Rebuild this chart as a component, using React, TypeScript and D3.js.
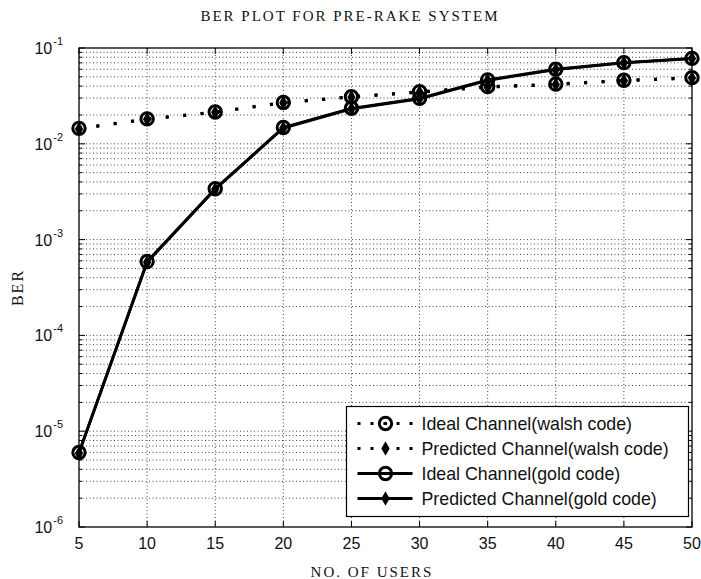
import React from "react";
import * as d3 from "d3";

// number of users on the x axis
const users = [5, 10, 15, 20, 25, 30, 35, 40, 45, 50];

// BER values
const walshIdeal = [0.0145, 0.0182, 0.0215, 0.027, 0.031, 0.035, 0.0395, 0.042, 0.046, 0.049];
const walshPredicted = [0.0143, 0.018, 0.0213, 0.0268, 0.0307, 0.0345, 0.039, 0.0415, 0.0455, 0.0485];
const goldIdeal = [6e-6, 5.9e-4, 3.4e-3, 0.0148, 0.0235, 0.0298, 0.0465, 0.06, 0.0703, 0.078];
const goldPredicted = [5.9e-6, 5.8e-4, 3.35e-3, 0.0146, 0.0232, 0.0295, 0.046, 0.0595, 0.07, 0.0775];

const xTicks = [5, 10, 15, 20, 25, 30, 35, 40, 45, 50];
const yDecades = [-6, -5, -4, -3, -2, -1];

const legendLabels = [
  "Ideal Channel(walsh code)",
  "Predicted Channel(walsh code)",
  "Ideal Channel(gold code)",
  "Predicted Channel(gold code)",
];

const W = 701;
const H = 579;
const M = { left: 79, right: 692, top: 48, bottom: 527 };

const x = d3.scaleLinear().domain([5, 50]).range([M.left, M.right]);
const y = d3.scaleLog().domain([1e-6, 1e-1]).range([M.bottom, M.top]);

const sans = "'Liberation Sans', Arial, sans-serif";
const serif = "'Liberation Serif', 'Times New Roman', serif";
const DOTS = "3 14.5";

const line = d3
  .line<number>()
  .x((_, i) => x(users[i]))
  .y((d) => y(d));

const diamond = d3.symbol().type(d3.symbolDiamond).size(60)();

function Ring({ cx, cy }: { cx: number; cy: number }) {
  return (
    <g>
      <circle cx={cx} cy={cy} r={6.2} fill="none" stroke="#000" strokeWidth={3} />
      <circle cx={cx} cy={cy} r={1.8} fill="#000" />
    </g>
  );
}

function Star({ cx, cy }: { cx: number; cy: number }) {
  return <path d={diamond as string} transform={`translate(${cx},${cy})`} fill="#000" />;
}

export default function App() {
  // minor log grid values
  const minor: number[] = [];
  for (let e = -6; e < -1; e++) for (let k = 2; k <= 9; k++) minor.push(k * Math.pow(10, e));

  const series = [
    { data: walshIdeal, dash: DOTS, Marker: Ring },
    { data: walshPredicted, dash: DOTS, Marker: Star },
    { data: goldIdeal, dash: undefined, Marker: Ring },
    { data: goldPredicted, dash: undefined, Marker: Star },
  ];

  const lgX = 346.5;
  const lgY = 406.5;
  const lgW = 342;
  const lgH = 110;

  return (
    <svg width={W} height={H} style={{ position: "absolute", left: 0, top: 0, background: "#fff" }}>
      <rect width={W} height={H} fill="#fff" />

      {/* grid */}
      <g stroke="#444" strokeWidth={1} strokeDasharray="1 2.5">
        {xTicks.slice(1, -1).map((t) => (
          <line key={"gx" + t} x1={x(t)} x2={x(t)} y1={M.top} y2={M.bottom} />
        ))}
        {minor.map((v, i) => (
          <line key={"gm" + i} x1={M.left} x2={M.right} y1={y(v)} y2={y(v)} />
        ))}
        {yDecades.slice(1, -1).map((e) => (
          <line key={"gd" + e} x1={M.left} x2={M.right} y1={y(Math.pow(10, e))} y2={y(Math.pow(10, e))} />
        ))}
      </g>

      {/* ticks */}
      <g stroke="#000" strokeWidth={1}>
        {xTicks.map((t) => (
          <g key={"tx" + t}>
            <line x1={x(t)} x2={x(t)} y1={M.bottom} y2={M.bottom - 6} />
            <line x1={x(t)} x2={x(t)} y1={M.top} y2={M.top + 6} />
          </g>
        ))}
        {yDecades.map((e) => (
          <g key={"ty" + e}>
            <line x1={M.left} x2={M.left + 6} y1={y(Math.pow(10, e))} y2={y(Math.pow(10, e))} />
            <line x1={M.right} x2={M.right - 6} y1={y(Math.pow(10, e))} y2={y(Math.pow(10, e))} />
          </g>
        ))}
        {minor.map((v, i) => (
          <g key={"tm" + i}>
            <line x1={M.left} x2={M.left + 3} y1={y(v)} y2={y(v)} />
            <line x1={M.right} x2={M.right - 3} y1={y(v)} y2={y(v)} />
          </g>
        ))}
      </g>

      {/* series */}
      {series.map((s, si) => (
        <g key={"s" + si}>
          <path
            d={line(s.data) as string}
            fill="none"
            stroke="#000"
            strokeWidth={s.dash ? 3 : 2.8}
            strokeDasharray={s.dash}
          />
          {s.data.map((v, i) => (
            <s.Marker key={i} cx={x(users[i])} cy={y(v)} />
          ))}
        </g>
      ))}

      {/* axes box */}
      <rect
        x={M.left}
        y={M.top}
        width={M.right - M.left}
        height={M.bottom - M.top}
        fill="none"
        stroke="#000"
        strokeWidth={1.3}
      />

      {/* tick labels */}
      <g fontFamily={sans} fill="#111">
        {xTicks.map((t) => (
          <text key={"lx" + t} x={x(t)} y={549} fontSize={16} textAnchor="middle">
            {t}
          </text>
        ))}
        {yDecades.map((e) => (
          <text key={"ly" + e} x={63} y={y(Math.pow(10, e)) + 6} fontSize={16} textAnchor="end">
            10
            <tspan dx={1} dy={-9} fontSize={11}>
              {e}
            </tspan>
          </text>
        ))}
      </g>

      {/* titles */}
      <text x={350} y={21} fontFamily={serif} fontSize={15} letterSpacing={2} textAnchor="middle" fill="#111">
        BER PLOT FOR PRE-RAKE SYSTEM
      </text>
      <text x={372} y={577} fontFamily={serif} fontSize={15} letterSpacing={2} textAnchor="middle" fill="#111">
        NO. OF USERS
      </text>
      <text
        transform={`translate(23,${(M.top + M.bottom) / 2}) rotate(-90)`}
        fontFamily={serif}
        fontSize={16}
        letterSpacing={2}
        textAnchor="middle"
        fill="#111"
      >
        BER
      </text>

      {/* legend */}
      <g>
        <rect x={lgX} y={lgY} width={lgW} height={lgH} fill="#fff" stroke="#000" strokeWidth={1.2} />
        {series.map((s, i) => {
          const ry = lgY + 17 + i * 25;
          return (
            <g key={"lg" + i}>
              <line
                x1={lgX + 11}
                x2={lgX + 66}
                y1={ry}
                y2={ry}
                stroke="#000"
                strokeWidth={s.dash ? 3 : 2.8}
                strokeDasharray={s.dash ? "3 10" : undefined}
              />
              <s.Marker cx={lgX + 39} cy={ry} />
              <text x={lgX + 75} y={ry + 6} fontFamily={sans} fontSize={17.8} fill="#111">
                {legendLabels[i]}
              </text>
            </g>
          );
        })}
      </g>
    </svg>
  );
}
